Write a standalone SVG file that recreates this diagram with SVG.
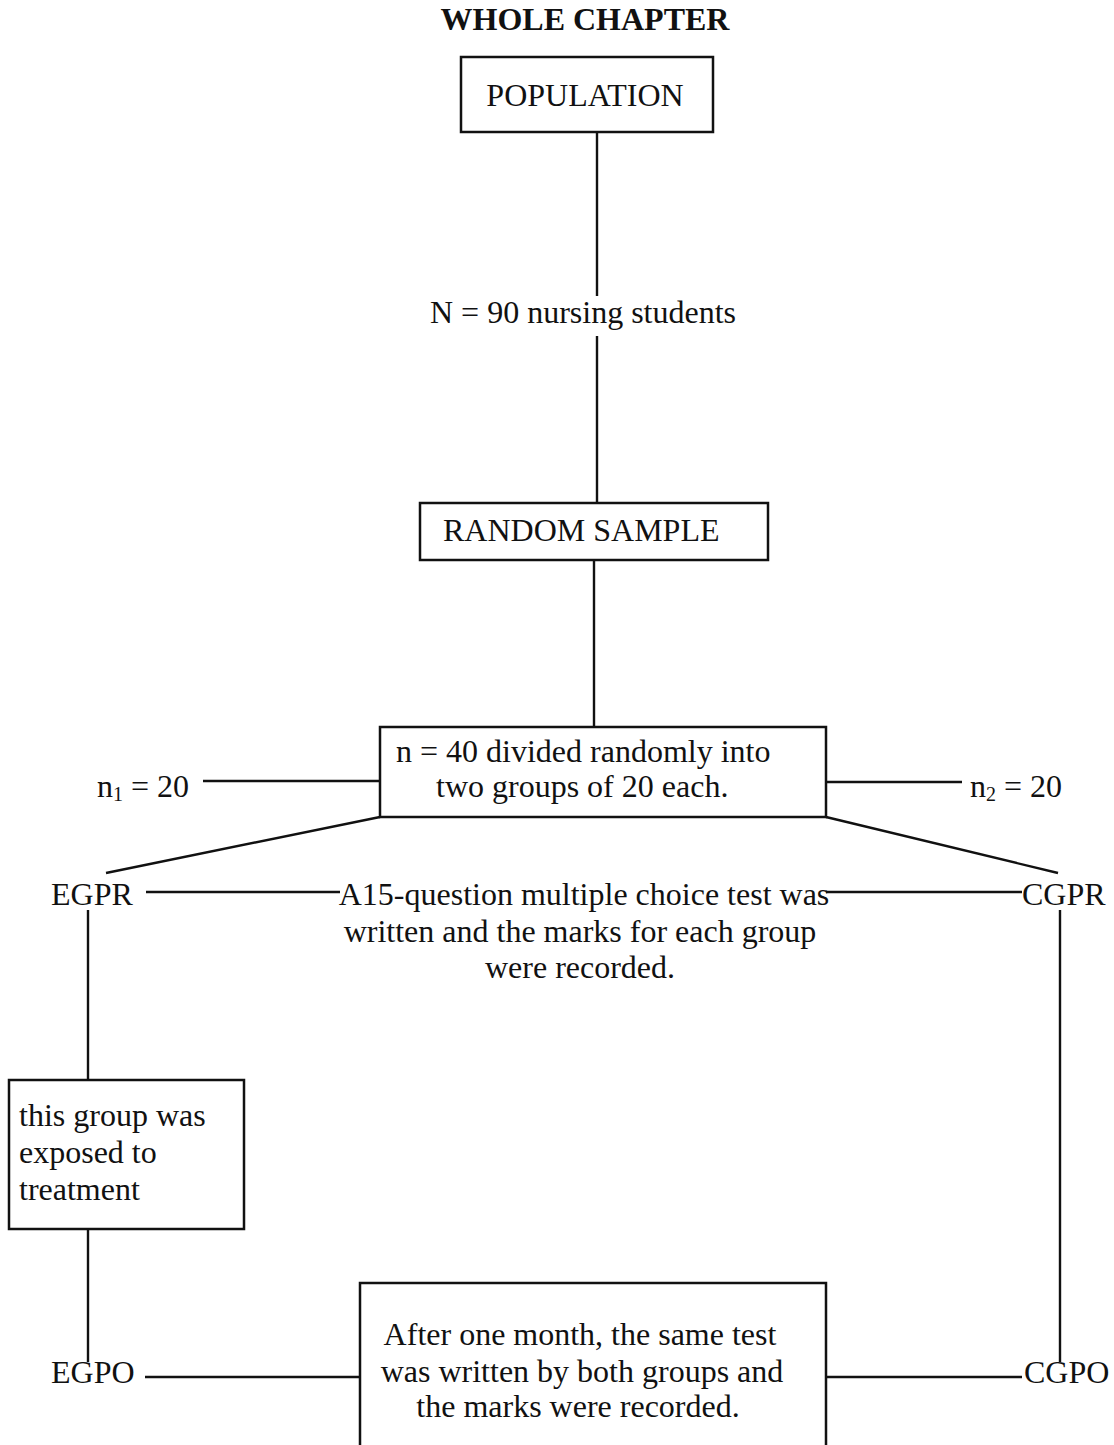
<svg xmlns="http://www.w3.org/2000/svg" width="1114" height="1445" viewBox="0 0 1114 1445">
<style>
text{font-family:"Liberation Serif","Times New Roman",serif;font-size:32px;fill:#111}
.title{font-weight:bold;font-size:32px}
.box{fill:#fff;stroke:#111;stroke-width:2.5}
.ln{stroke:#111;stroke-width:2.4;fill:none}
.c{text-anchor:middle}
</style>
<rect width="1114" height="1445" fill="#fff"/>
<text class="title c" x="585" y="30">WHOLE CHAPTER</text>
<g id="connectors">
<line class="ln" x1="597" y1="132" x2="597" y2="296"/>
<line class="ln" x1="597" y1="336" x2="597" y2="503"/>
<line class="ln" x1="594" y1="560" x2="594" y2="727"/>
<line class="ln" x1="203" y1="781" x2="380" y2="781"/>
<line class="ln" x1="826" y1="782" x2="962" y2="782"/>
<line class="ln" x1="380" y1="817" x2="106" y2="873"/>
<line class="ln" x1="826" y1="817" x2="1058" y2="873"/>
<line class="ln" x1="146" y1="892" x2="340" y2="892"/>
<line class="ln" x1="826" y1="892" x2="1022" y2="892"/>
<line class="ln" x1="88" y1="910" x2="88" y2="1080"/>
<line class="ln" x1="88" y1="1229" x2="88" y2="1362"/>
<line class="ln" x1="1060" y1="910" x2="1060" y2="1362"/>
<line class="ln" x1="145" y1="1377" x2="360" y2="1377"/>
<line class="ln" x1="826" y1="1377" x2="1022" y2="1377"/>
</g>
<g id="population">
<rect class="box" x="461" y="57" width="252" height="75"/>
<text class="c" x="585" y="106">POPULATION</text>
</g>
<g id="n90label">
<text class="c" x="583" y="323">N = 90 nursing students</text>
</g>
<g id="random-sample">
<rect class="box" x="420" y="503" width="348" height="57"/>
<text x="443" y="541">RANDOM SAMPLE</text>
</g>
<g id="n40">
<rect class="box" x="380" y="727" width="446" height="90"/>
<text x="396" y="762">n = 40 divided randomly into</text>
<text x="436" y="797">two groups of 20 each.</text>
</g>
<g id="n1"><text x="97" y="797">n<tspan font-size="20" dy="4">1</tspan><tspan dy="-4"> = 20</tspan></text></g>
<g id="n2"><text x="970" y="797">n<tspan font-size="20" dy="4">2</tspan><tspan dy="-4"> = 20</tspan></text></g>
<g id="egpr"><text x="51" y="905">EGPR</text></g>
<g id="cgpr"><text x="1022" y="905">CGPR</text></g>
<g id="pretest">
<text class="c" x="584" y="905">A15-question multiple choice test was</text>
<text class="c" x="580" y="942">written and the marks for each group</text>
<text class="c" x="580" y="978">were recorded.</text>
</g>
<g id="treatment">
<rect class="box" x="9" y="1080" width="235" height="149"/>
<text x="19" y="1126">this group was</text>
<text x="19" y="1163">exposed to</text>
<text x="19" y="1200">treatment</text>
</g>
<g id="egpo"><text x="51" y="1383">EGPO</text></g>
<g id="cgpo"><text x="1024" y="1383">CGPO</text></g>
<g id="posttest">
<path class="box" d="M360 1450 V1283 H826 V1450"/>
<text class="c" x="580" y="1345">After one month, the same test</text>
<text class="c" x="582" y="1382">was written by both groups and</text>
<text class="c" x="578" y="1417">the marks were recorded.</text>
</g>
</svg>
